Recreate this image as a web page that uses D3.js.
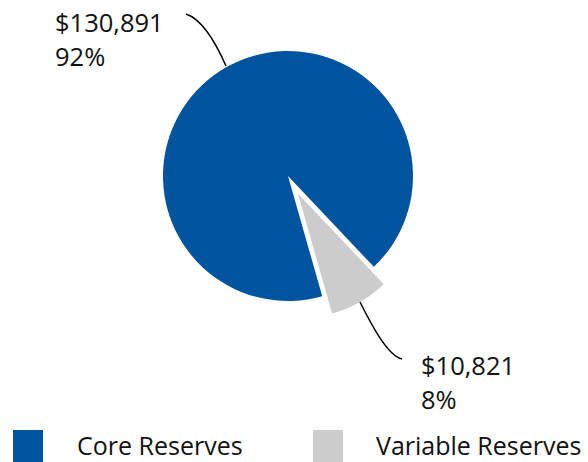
<!DOCTYPE html>
<html><head><meta charset="utf-8">
<script src="https://cdn.jsdelivr.net/npm/d3@7"></script>
<style>body{margin:0;background:#fff}svg{display:block}text{font-family:"Open Sans",sans-serif;fill:#111}</style>
</head><body>
<script>
const categories = ["Core Reserves", "Variable Reserves"];
const values = [130891, 10821];
const valueLabels = ["$130,891", "$10,821"];
const percentLabels = ["92%", "8%"];
const colors = ["#00539F", "#CCCCCC"];

const W = 588, H = 462;
const svg = d3.select("body").append("svg").attr("width", W).attr("height", H);
const cx = 288, cy = 176, R = 125, explode = 20;
const start = 164.1 * Math.PI / 180;

const pie = d3.pie().sort(null).startAngle(start).endAngle(start + 2 * Math.PI);
const arcs = pie(values);
const arc = d3.arc().innerRadius(0).outerRadius(R);

const g = svg.append("g").attr("transform", `translate(${cx},${cy})`);
g.selectAll("path.slice").data(arcs).join("path")
  .attr("class", "slice")
  .attr("fill", (d, i) => colors[i])
  .attr("transform", (d, i) => {
    if (i === 0) return null;
    const m = (d.startAngle + d.endAngle) / 2;
    return `translate(${Math.sin(m) * explode},${-Math.cos(m) * explode})`;
  })
  .attr("d", arc);

// leader lines
const p1 = d3.path();
p1.moveTo(186, 14); p1.bezierCurveTo(198, 18, 212, 34, 226, 66);
svg.append("path").attr("d", p1.toString()).attr("fill", "none").attr("stroke", "#000").attr("stroke-width", 1.5);
const p2 = d3.path();
p2.moveTo(360, 302); p2.bezierCurveTo(372, 326, 388, 356, 402, 359);
svg.append("path").attr("d", p2.toString()).attr("fill", "none").attr("stroke", "#000").attr("stroke-width", 1.5);

// labels
const labelPos = [[55, 32], [421, 375]];
labelPos.forEach((p, i) => {
  svg.append("text").attr("x", p[0]).attr("y", p[1]).attr("font-size", 25.5).text(valueLabels[i]);
  svg.append("text").attr("x", p[0]).attr("y", p[1] + 34).attr("font-size", 25.5).text(percentLabels[i]);
});

// legend
const legX = [13, 313], textX = [77, 376];
categories.forEach((c, i) => {
  svg.append("rect").attr("x", legX[i]).attr("y", 430).attr("width", 30).attr("height", 32).attr("fill", colors[i]);
  svg.append("text").attr("x", textX[i]).attr("y", 455).attr("font-size", 25).text(c);
});
</script>
</body></html>
